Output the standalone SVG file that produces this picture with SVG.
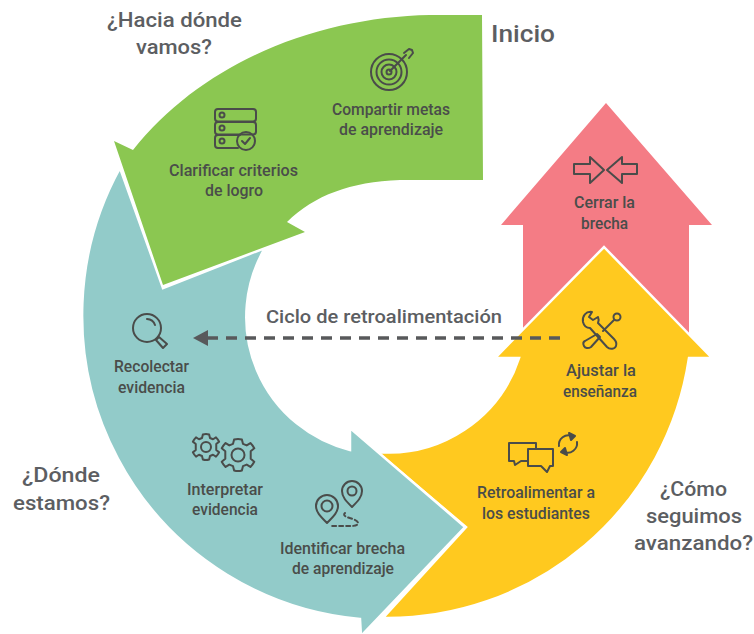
<svg xmlns="http://www.w3.org/2000/svg" width="754" height="634" viewBox="0 0 754 634">
<style>
text{font-family:"Roboto","Liberation Sans",sans-serif}
.l{font-size:17px;font-weight:500;fill:#4a4d4a}
.h{font-size:20px;font-weight:500;fill:#5c5e62}
.i{fill:none;stroke:#4a4c4a;stroke-width:2;stroke-linejoin:round;stroke-linecap:round}
.g{vector-effect:non-scaling-stroke}
.a{stroke:#fff;stroke-width:2.5;stroke-linejoin:miter}
</style>
<defs>
<marker id="ah" markerUnits="userSpaceOnUse" markerWidth="16" markerHeight="18" refX="1" refY="9" orient="auto"><path d="M0,1L15,9L0,17Z" fill="#58595b"/></marker>
<path id="gear" class="g" d="M-2.500,-10Q0,-10.800 2.500,-10L3.200,-7.200L5.600,-6.200L8,-7.700Q9.500,-6.200 10.500,-4.300L8.200,-2.400L8.200,2.400L10.500,4.300Q9.500,6.200 8,7.700L5.600,6.200L3.200,7.200L2.500,10Q0,10.800 -2.500,10L-3.200,7.200L-5.600,6.200L-8,7.700Q-9.500,6.200 -10.500,4.300L-8.200,2.400L-8.200,-2.400L-10.500,-4.300Q-9.500,-6.200 -8,-7.700L-5.600,-6.200L-3.200,-7.200Z"/>
</defs>

<g id="node-cerrar">
<path d="M606,103L712,225L689,225L689,340L604,250L523,335L523,225L501,225Z" fill="#f47c85"/>
<g class="i"><path d="M574,164L590,164L590,157L604,170L590,183L590,174L574,174Z"/><path d="M637,164L622,164L622,157L607,170L622,183L622,174L637,174Z"/></g>
<text class="l" x="574" y="208" textLength="61" lengthAdjust="spacingAndGlyphs">Cerrar la</text>
<text class="l" x="581" y="229" textLength="47" lengthAdjust="spacingAndGlyphs">brecha</text>
</g>

<g id="node-amarillo">
<path class="a" d="M377,452L466,527L383,618A305,305 0 0 0 689,358L712,358L604,247L495,358L519,358A137,137 0 0 1 377,452Z" fill="#ffc91f"/>
<g class="i">
<path d="M592,312C586,311 582,316 583,322C584,326 587,328 590,328L607,347C610,350 615,349 616,346C617,343 616,341 614,339L598,323C599,320 599,319 598,317L593,320L589,317Z"/>
<circle cx="617" cy="317" r="3.500"/><path d="M614,320L603,331"/>
<path d="M597,334L600,337L591,347C588,349 585,348 584,346C583,344 583,342 585,341Z"/>
<path d="M536,449L536,443L509,443L509,461L514,461L515,465L521,461L528,461"/>
<path d="M528,449L553,449L553,466L550,466L547,472L541,466L528,466Z"/>
<path d="M559,446A9.500,9.500 0 0 1 572,436M577,442A9.500,9.500 0 0 1 564,452"/>
<path d="M569,433L575,436L571,440ZM567,455L561,452L565,448Z" fill="#4a4c4a"/>
</g>
<text class="l" x="566" y="376" textLength="70" lengthAdjust="spacingAndGlyphs">Ajustar la</text>
<text class="l" x="563" y="397" textLength="74" lengthAdjust="spacingAndGlyphs">enseñanza</text>
<text class="l" x="477" y="498" textLength="118" lengthAdjust="spacingAndGlyphs">Retroalimentar a</text>
<text class="l" x="482" y="519" textLength="108" lengthAdjust="spacingAndGlyphs">los estudiantes</text>
</g>

<g id="node-azul">
<path class="a" d="M120,168L163,288L265,248A137,137 0 0 0 350,450L350,428L465,527L361,636L360,619A305,305 0 0 1 120,168Z" fill="#92cbc9"/>
<g class="i">
<circle cx="147" cy="328" r="14"/><path d="M147,319A9,9 0 0 1 155,325"/><path d="M159,337L167,344L163,348L156,340Z"/>
<use href="#gear" transform="translate(206,447) scale(1.250)"/><circle cx="206" cy="447" r="5"/>
<use href="#gear" transform="translate(238,455) scale(1.550)"/><circle cx="238" cy="455" r="6.500"/>
<path d="M327,523C320,516 316,512 316,506A11,11 0 0 1 338,506C338,512 334,516 327,523Z"/><circle cx="327" cy="506" r="5.500"/>
<path d="M352,507C346,501 342,497 342,491A10,10 0 0 1 362,491C362,497 358,501 352,507Z"/><circle cx="352" cy="491" r="4.500"/>
<path d="M345,513C340,518 358,518 358,523C358,527 350,526 330,526" stroke-dasharray="4 3"/>
</g>
<text class="l" x="114" y="372" textLength="75" lengthAdjust="spacingAndGlyphs">Recolectar</text>
<text class="l" x="118" y="393" textLength="67" lengthAdjust="spacingAndGlyphs">evidencia</text>
<text class="l" x="187" y="495" textLength="76" lengthAdjust="spacingAndGlyphs">Interpretar</text>
<text class="l" x="192" y="515" textLength="66" lengthAdjust="spacingAndGlyphs">evidencia</text>
<text class="l" x="280" y="554" textLength="125" lengthAdjust="spacingAndGlyphs">Identificar brecha</text>
<text class="l" x="292" y="574" textLength="102" lengthAdjust="spacingAndGlyphs">de aprendizaje</text>
</g>

<g id="node-verde">
<path d="M482,15L430,15C320,17 205,60 133,150L114,141L163,285L305,232L287,222C315,195 350,182 400,180L483,180Z" fill="#8bc751"/>
<g class="i">
<circle cx="389" cy="72" r="18"/><circle cx="389" cy="72" r="12.500"/><circle cx="389" cy="72" r="7.500"/><circle cx="389" cy="72" r="2.500"/>
<path d="M390,71L406,55M404,53L409,49L412,50M409,58L413,53L412,50"/>
<rect x="215" y="109" width="41" height="12.500" rx="3"/><rect x="215" y="122" width="41" height="12.500" rx="3"/><path d="M238,148L218,148Q215,148 215,145L215,138Q215,135 218,135L240,135"/>
<circle cx="222" cy="115" r="2.500"/><circle cx="222" cy="128" r="2.500"/><circle cx="222" cy="141" r="2.500"/>
<circle cx="246" cy="141" r="9"/><path d="M242,141L245,144L250,138"/>
</g>
<text class="l" x="332" y="115" textLength="118" lengthAdjust="spacingAndGlyphs">Compartir metas</text>
<text class="l" x="339" y="135" textLength="104" lengthAdjust="spacingAndGlyphs">de aprendizaje</text>
<text class="l" x="169" y="176" textLength="129" lengthAdjust="spacingAndGlyphs">Clarificar criterios</text>
<text class="l" x="205" y="196" textLength="58" lengthAdjust="spacingAndGlyphs">de logro</text>
</g>

<g id="connectors">
<path d="M560,338L207,338" fill="none" stroke="#58595b" stroke-width="3.500" stroke-dasharray="11 8" marker-end="url(#ah)"/>
</g>

<g id="labels">
<text class="h" x="266" y="323" textLength="236" lengthAdjust="spacingAndGlyphs" style="font-size:18px">Ciclo de retroalimentación</text>
<text class="h" x="107" y="27" textLength="135" lengthAdjust="spacingAndGlyphs">¿Hacia dónde</text>
<text class="h" x="136" y="54" textLength="76" lengthAdjust="spacingAndGlyphs">vamos?</text>
<text class="h" x="491" y="42" textLength="64" lengthAdjust="spacingAndGlyphs" style="font-size:23px">Inicio</text>
<text class="h" x="22" y="482" textLength="78" lengthAdjust="spacingAndGlyphs">¿Dónde</text>
<text class="h" x="13" y="510" textLength="97" lengthAdjust="spacingAndGlyphs">estamos?</text>
<text class="h" x="660" y="496" textLength="67" lengthAdjust="spacingAndGlyphs">¿Cómo</text>
<text class="h" x="646" y="523" textLength="96" lengthAdjust="spacingAndGlyphs">seguimos</text>
<text class="h" x="634" y="550" textLength="119" lengthAdjust="spacingAndGlyphs">avanzando?</text>
</g>
</svg>
